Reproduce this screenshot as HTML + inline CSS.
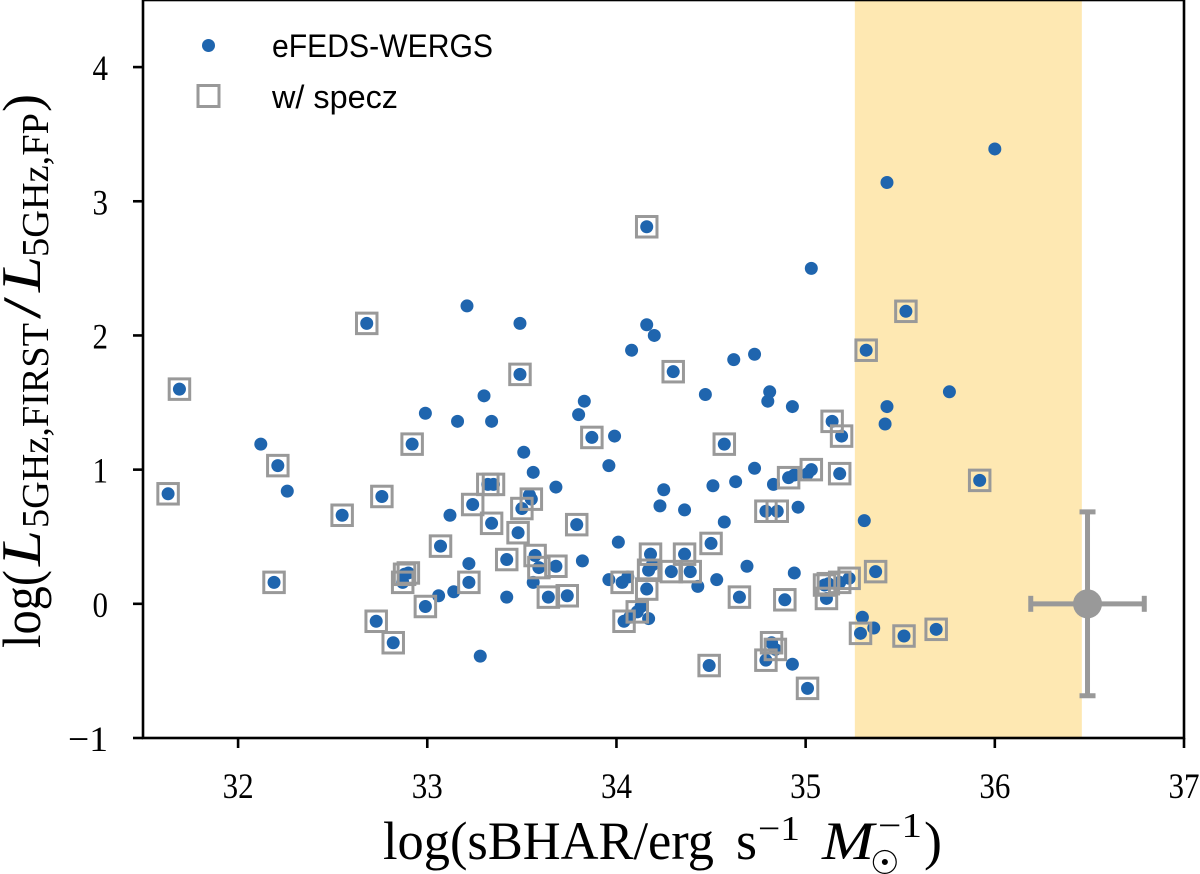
<!DOCTYPE html>
<html lang="en">
<head>
<meta charset="utf-8">
<title>sBHAR vs radio excess</title>
<style>
html,body{margin:0;padding:0;background:#fff;}
svg{display:block;}
.serif{font-family:"Liberation Serif",serif;fill:#000;}
.sans{font-family:"Liberation Sans",sans-serif;fill:#000;}
</style>
</head>
<body>
<svg id="chart" xmlns="http://www.w3.org/2000/svg" width="1200" height="874" viewBox="0 0 1200 874">
  <rect x="0" y="0" width="1200" height="874" fill="#ffffff"/>
  <g id="layer-span"></g>
  <g id="layer-dots"></g>
  <g id="layer-squares"></g>
  <g id="layer-err"></g>
  <g id="layer-ticks"></g>
  <rect x="143" y="0" width="1041" height="738" fill="none" stroke="#000" stroke-width="2.6"/>

  <g>
    <circle cx="208.5" cy="45.5" r="6.5" fill="#1f65ae"/>
    <text class="sans" x="272" y="57" font-size="32" textLength="221" lengthAdjust="spacingAndGlyphs">eFEDS-WERGS</text>
    <rect x="198" y="85.5" width="21" height="21" fill="none" stroke="#999" stroke-width="3"/>
    <text class="sans" x="272" y="108" font-size="32" textLength="126" lengthAdjust="spacingAndGlyphs">w/ specz</text>
  </g>

  <g>
    <text class="serif" x="383" y="859" font-size="54" textLength="331" lengthAdjust="spacingAndGlyphs">log(sBHAR/erg</text>
    <text class="serif" x="736" y="859" font-size="54">s</text>
    <text class="serif" x="758" y="840" font-size="35" textLength="42" lengthAdjust="spacingAndGlyphs">−1</text>
    <text class="serif" x="822" y="859" font-size="54" font-style="italic" textLength="52" lengthAdjust="spacingAndGlyphs">M</text>
    <text class="serif" x="878" y="837" font-size="35" textLength="44" lengthAdjust="spacingAndGlyphs">−1</text>
    <text x="870" y="874" font-size="33" style="font-family:'DejaVu Sans',sans-serif">☉</text>
    <text class="serif" x="924" y="859" font-size="54">)</text>
  </g>

  <g transform="translate(40,0) rotate(-90)">
    <text class="serif" x="-648" y="0" font-size="54" textLength="78" lengthAdjust="spacingAndGlyphs">log(</text>
    <text class="serif" x="-566" y="0" font-size="56" font-style="italic" textLength="36" lengthAdjust="spacingAndGlyphs">L</text>
    <text class="serif" x="-528" y="8" font-size="38" textLength="205" lengthAdjust="spacingAndGlyphs">5GHz,FIRST</text>
    <text class="serif" x="-319" y="0" font-size="54" textLength="22" lengthAdjust="spacingAndGlyphs">/</text>
    <text class="serif" x="-292" y="0" font-size="56" font-style="italic" textLength="36" lengthAdjust="spacingAndGlyphs">L</text>
    <text class="serif" x="-257" y="8" font-size="38" textLength="144" lengthAdjust="spacingAndGlyphs">5GHz,FP</text>
    <text class="serif" x="-112" y="0" font-size="54">)</text>
  </g>
</svg>

<script>
const xTicks = [32, 33, 34, 35, 36, 37];
const yTicks = [-1, 0, 1, 2, 3, 4];
const xDomain = [31.5, 37];
const yDomain = [-1, 4.5];

const plainX = [36.00,35.43,35.03,33.21,33.49,34.16,34.20,34.08,34.73,34.62,35.76,34.81,34.47,33.30,33.83,34.80,34.93,35.43,33.80,32.99,33.16,33.34,35.42,33.99,32.12,33.51,33.96,33.56,34.73,34.63,34.51,34.83,32.26,33.68,34.25,33.12,34.23,34.36,34.57,34.96,35.31,34.94,35.01,34.01,34.69,34.94,34.53,34.43,33.96,34.06,34.19,33.82,33.56,33.42,34.93,33.22,33.06,33.14,33.28,35.30,35.36,33.54,34.13,34.17,34.07];
const plainY = [3.39,3.14,2.50,2.22,2.09,2.08,2.00,1.89,1.86,1.82,1.58,1.58,1.56,1.55,1.51,1.51,1.47,1.47,1.41,1.42,1.36,1.36,1.34,1.25,1.19,1.13,1.03,0.98,1.01,0.91,0.88,0.89,0.84,0.87,0.85,0.66,0.73,0.70,0.61,0.72,0.62,0.96,0.97,0.46,0.28,0.23,0.18,0.13,0.18,0.20,0.29,0.32,0.16,0.05,-0.45,0.30,0.06,0.09,-0.39,-0.10,-0.18,0.81,-0.02,-0.11,-0.10];

const speczX = [31.63,31.69,32.19,32.21,32.55,32.68,32.73,32.76,32.82,32.87,32.88,32.90,32.92,32.99,33.07,33.22,33.24,33.32,33.35,33.34,33.42,33.48,33.50,33.55,33.79,33.57,33.59,33.68,33.64,33.74,34.03,34.18,34.17,34.16,34.29,34.39,34.36,34.50,34.65,34.89,34.04,34.11,34.49,34.79,34.82,34.84,35.01,34.91,35.03,35.18,34.79,34.85,35.37,35.92,35.29,35.52,35.69,35.10,35.12,35.11,35.18,35.23,35.32,35.53,34.16,33.49,34.30,33.87,34.57,35.14,35.19];
const speczY = [0.82,1.60,0.16,1.03,0.66,2.09,-0.13,0.80,-0.29,0.16,0.22,0.23,1.19,-0.02,0.43,0.16,0.74,0.89,0.89,0.60,0.33,0.53,0.71,0.78,0.59,0.36,0.27,0.28,0.05,0.06,0.16,0.37,0.25,0.11,0.24,0.24,0.37,0.45,0.05,0.03,-0.13,-0.06,-0.46,-0.42,-0.29,-0.34,-0.63,0.94,1.00,0.97,0.69,0.69,0.24,0.92,-0.22,-0.24,-0.19,0.14,0.15,0.04,0.16,0.19,1.89,2.18,2.81,1.71,1.73,1.24,1.19,1.36,1.25];

const bandRange = [35.26, 36.46];
const errCenter = [36.49, 0];
const errX = [0.30];
const errY = [0.685];

const NS = 'http://www.w3.org/2000/svg';
const plotLeft = 143.5, plotRight = 1184, plotTop = 0, plotBottom = 738;

function sx(v) { return plotLeft + (v - xDomain[0]) / (xDomain[1] - xDomain[0]) * (plotRight - plotLeft); }
function sy(v) { return plotBottom - (v - yDomain[0]) / (yDomain[1] - yDomain[0]) * (plotBottom - plotTop); }

function make(tag, attrs, parent) {
  const el = document.createElementNS(NS, tag);
  for (const k in attrs) el.setAttribute(k, attrs[k]);
  parent.appendChild(el);
  return el;
}

const spanLayer = document.getElementById('layer-span');
const dotLayer = document.getElementById('layer-dots');
const squareLayer = document.getElementById('layer-squares');
const errLayer = document.getElementById('layer-err');
const tickLayer = document.getElementById('layer-ticks');

const band = make('rect', {x: sx(bandRange[0]), y: plotTop, width: sx(bandRange[1]) - sx(bandRange[0]), height: plotBottom - plotTop, fill: '#fee8b2'}, spanLayer);



plainX.forEach(function (v, i) {
  const c = make('circle', {cx: sx(v), cy: sy(plainY[i]), r: 6.5, fill: '#1f65ae'}, dotLayer);
  
  
});

speczX.forEach(function (v, i) {
  const c = make('circle', {cx: sx(v), cy: sy(speczY[i]), r: 6.5, fill: '#1f65ae'}, dotLayer);
  
  
});

speczX.forEach(function (v, i) {
  const s = make('rect', {x: sx(v) - 10.25, y: sy(speczY[i]) - 10.25, width: 20.5, height: 20.5, fill: 'none', stroke: '#999', 'stroke-width': 3}, squareLayer);
  
  
});

const ex0 = sx(errCenter[0] - errX[0]), ex1 = sx(errCenter[0] + errX[0]), exc = sx(errCenter[0]);
const ey0 = sy(errCenter[1] - errY[0]), ey1 = sy(errCenter[1] + errY[0]), eyc = sy(errCenter[1]);
const errColor = '#999999';
const hBar = make('line', {x1: ex0, x2: ex1, y1: eyc, y2: eyc, stroke: errColor, 'stroke-width': 5}, errLayer);


const vBar = make('line', {x1: exc, x2: exc, y1: ey0, y2: ey1, stroke: errColor, 'stroke-width': 5}, errLayer);


[ex0, ex1].forEach(function (x) {
  const cap = make('line', {x1: x, x2: x, y1: eyc - 8, y2: eyc + 8, stroke: errColor, 'stroke-width': 5}, errLayer);
  
  
});
[ey0, ey1].forEach(function (y) {
  const cap = make('line', {x1: exc - 8, x2: exc + 8, y1: y, y2: y, stroke: errColor, 'stroke-width': 5}, errLayer);
  
  
});
const errDot = make('circle', {cx: exc, cy: eyc, r: 14.5, fill: errColor}, errLayer);



xTicks.forEach(function (v) {
  const x = sx(v);
  const t = make('line', {x1: x, x2: x, y1: plotBottom, y2: plotBottom + 10, stroke: '#000', 'stroke-width': 2.6}, tickLayer);
  
  
  const label = make('text', {x: x, y: 798, 'font-size': 36, 'text-anchor': 'middle', textLength: 31, lengthAdjust: 'spacingAndGlyphs', 'class': 'serif'}, tickLayer);
  label.textContent = String(v);
  
  
});

yTicks.forEach(function (v) {
  const y = sy(v);
  const t = make('line', {x1: plotLeft - 10.5, x2: plotLeft - 0.5, y1: y, y2: y, stroke: '#000', 'stroke-width': 2.6}, tickLayer);
  
  
  const label = make('text', {x: 108, y: y + 13, 'font-size': 36, 'text-anchor': 'end', textLength: v < 0 ? 40 : 15.5, lengthAdjust: 'spacingAndGlyphs', 'class': 'serif'}, tickLayer);
  label.textContent = v < 0 ? '−' + Math.abs(v) : String(v);
  
  
});
</script>
</body>
</html>
